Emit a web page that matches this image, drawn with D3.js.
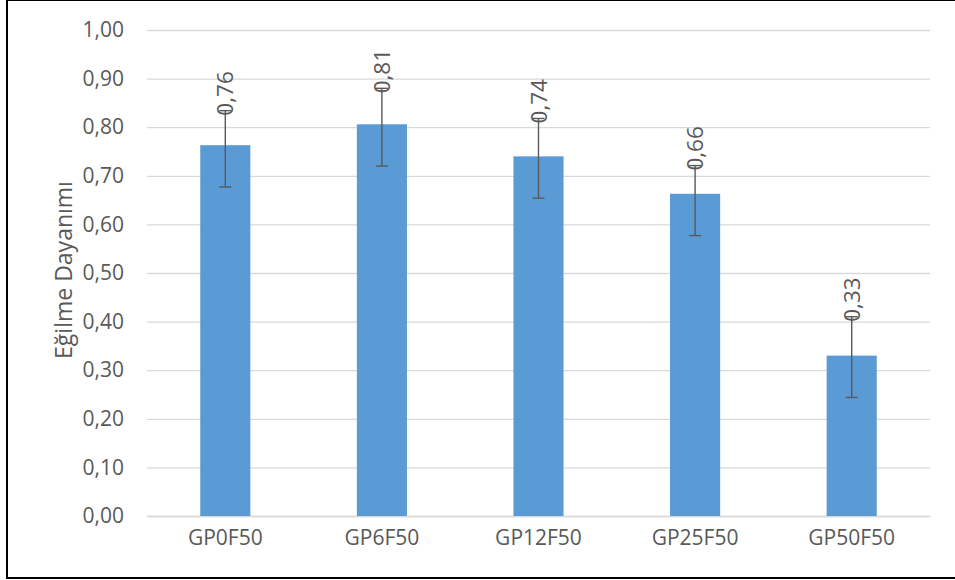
<!DOCTYPE html>
<html>
<head>
<meta charset="utf-8">
<script src="https://cdn.jsdelivr.net/npm/d3@7/dist/d3.min.js"></script>
<style>
  html, body { margin: 0; padding: 0; background: #fff; }
  svg { display: block; }
  text { font-family: "Open Sans", "Noto Sans", sans-serif; fill: #595959; }
</style>
</head>
<body>
<svg id="chart" width="955" height="580"></svg>
<script>
// Flexural strength per mix
const categories = ["GP0F50", "GP6F50", "GP12F50", "GP25F50", "GP50F50"];
const values = [0.763, 0.806, 0.740, 0.663, 0.330];
const errorPlus = [0.071, 0.074, 0.078, 0.058, 0.080];
const errorMinus = [0.086, 0.086, 0.086, 0.086, 0.086];
const yTicks = [0, 0.1, 0.2, 0.3, 0.4, 0.5, 0.6, 0.7, 0.8, 0.9, 1.0];
const yTitle = "Eğilme Dayanımı";

const svg = d3.select("#chart");
const plot = { left: 147, right: 930, top: 30, bottom: 516 };

const x = d3.scaleBand()
  .domain(categories)
  .range([plot.left, plot.right])
  .paddingInner(0.68)
  .paddingOuter(0.34);

const y = d3.scaleLinear().domain([0, 1]).range([plot.bottom, plot.top]);

const comma = v => d3.format(".2f")(v).replace(".", ",");

// outer frame
svg.append("rect")
  .attr("x", 7).attr("y", 0)
  .attr("width", 952).attr("height", 578)
  .attr("fill", "none").attr("stroke", "#000").attr("stroke-width", 2);

// horizontal gridlines + tick labels
const yAxis = d3.axisLeft(y)
  .tickValues(yTicks)
  .tickSize(-(plot.right - plot.left))
  .tickPadding(23)
  .tickFormat(comma);

const gy = svg.append("g")
  .attr("transform", `translate(${plot.left},0)`)
  .call(yAxis);
gy.select(".domain").remove();
gy.selectAll(".tick line").attr("stroke", "#d9d9d9").attr("stroke-width", 1.3);
gy.selectAll(".tick text")
  .attr("font-size", 21)
  .attr("fill", "#595959")
  .style("font-family", "'Open Sans', sans-serif");

// category axis
const xAxis = d3.axisBottom(x).tickSize(0).tickPadding(14);
const gx = svg.append("g")
  .attr("transform", `translate(0,${plot.bottom})`)
  .call(xAxis);
gx.select(".domain").attr("stroke", "#d9d9d9").attr("stroke-width", 1.3);
gx.selectAll(".tick text")
  .attr("font-size", 21)
  .attr("fill", "#595959")
  .style("font-family", "'Open Sans', sans-serif");

const rows = categories.map((c, i) => ({
  c, v: values[i], ep: errorPlus[i], em: errorMinus[i]
}));

// bars
svg.append("g").selectAll("rect")
  .data(rows)
  .join("rect")
  .attr("x", d => x(d.c))
  .attr("y", d => y(d.v))
  .attr("width", x.bandwidth())
  .attr("height", d => y(0) - y(d.v))
  .attr("fill", "#5b9bd5");

// error bars
const cap = 6;
const eb = svg.append("g")
  .attr("stroke", "#595959")
  .attr("stroke-width", 1.4)
  .attr("fill", "none");
rows.forEach(d => {
  const cx = x(d.c) + x.bandwidth() / 2;
  const yTop = y(d.v + d.ep), yBot = y(d.v - d.em);
  eb.append("line").attr("x1", cx).attr("x2", cx).attr("y1", yTop).attr("y2", yBot);
  eb.append("line").attr("x1", cx - cap).attr("x2", cx + cap).attr("y1", yTop).attr("y2", yTop);
  eb.append("line").attr("x1", cx - cap).attr("x2", cx + cap).attr("y1", yBot).attr("y2", yBot);
});

// rotated value labels sitting on the upper error caps
svg.append("g").selectAll("text")
  .data(rows)
  .join("text")
  .attr("transform", d => {
    const cx = x(d.c) + x.bandwidth() / 2 + 8;
    return `translate(${cx},${y(d.v + d.ep) + 5}) rotate(-90)`;
  })
  .attr("font-size", 22.5)
  .attr("text-anchor", "start")
  .text(d => comma(d.v));

// y axis title
svg.append("text")
  .attr("transform", `translate(72,270) rotate(-90)`)
  .attr("text-anchor", "middle")
  .attr("font-size", 23)
  .text(yTitle);
</script>
</body>
</html>
